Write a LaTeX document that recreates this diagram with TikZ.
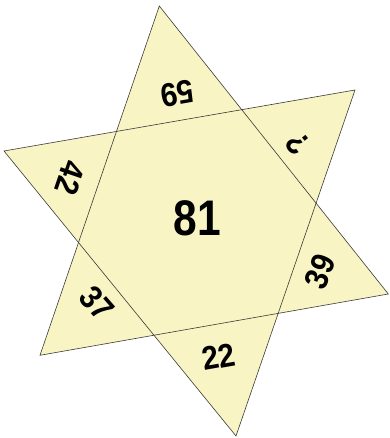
\documentclass[tikz,border=0pt]{standalone}
\usepackage{fontspec}
\setmainfont{Liberation Sans}
\definecolor{starfill}{HTML}{F8F4C4}
\definecolor{starline}{HTML}{3A3A36}
\tikzset{
  lbl/.style={font=\bfseries\fontsize{33}{33}\selectfont, inner sep=0pt, text=black},
  big/.style={font=\bfseries\fontsize{50}{50}\selectfont, inner sep=0pt, text=black},
  edge/.style={draw=starline, line width=0.6pt, line join=miter}
}
\begin{document}
\begin{tikzpicture}[x=1pt,y=1pt]
\useasboundingbox (0,0) rectangle (389,438);
% triangle A
\coordinate (a1) at (159.3,432);
\coordinate (a2) at (40,82.7);
\coordinate (a3) at (388.3,144);
% triangle B
\coordinate (b1) at (4,287);
\coordinate (b2) at (355,348);
\coordinate (b3) at (236,2);
\fill[starfill] (a1) -- (a2) -- (a3) -- cycle;
\fill[starfill] (b1) -- (b2) -- (b3) -- cycle;
\draw[edge] (a1) -- (a2) -- (a3) -- cycle;
\draw[edge] (b1) -- (b2) -- (b3) -- cycle;
\node[big] (n81) at (197.3,219.7) {\scalebox{0.85}[1]{81}};
\node[lbl, rotate=190] (n59) at (177.7,344) {\scalebox{0.9}[1]{59}};
\node[lbl, rotate=129] (nq) at (297.7,294.7) {\scalebox{0.9}[1]{?}};
\node[lbl, rotate=68] (n39) at (320,166.3) {\scalebox{0.9}[1]{39}};
\node[lbl, rotate=10] (n22) at (218.3,81.3) {\scalebox{0.9}[1]{22}};
\node[lbl, rotate=-49] (n37) at (96.7,134.7) {\scalebox{0.9}[1]{37}};
\node[lbl, rotate=-109] (n42) at (70,259.7) {\scalebox{0.9}[1]{42}};
\end{tikzpicture}
\end{document}
